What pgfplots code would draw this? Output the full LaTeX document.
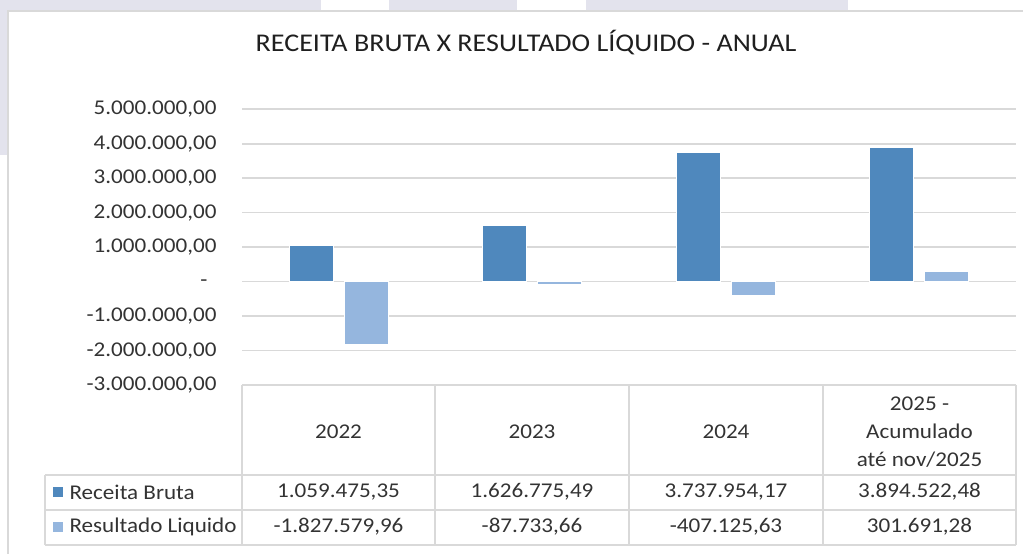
\documentclass[border=0pt]{standalone}
\usepackage{fontspec}
\setmainfont{Carlito}[FakeStretch=1.1]
\usepackage{pgfplots}
\pgfplotsset{compat=1.18}

\definecolor{receita}{HTML}{4F88BD}
\definecolor{resultado}{HTML}{95B6DE}
\definecolor{gridc}{HTML}{D9D9D9}
\definecolor{band}{HTML}{E3E3ED}
\definecolor{txt}{HTML}{333333}

\begin{document}
\begin{tikzpicture}
\path[use as bounding box] (0pt,0pt) rectangle (1023pt,554pt);
% screenshot surroundings
\fill[band] (0pt,544pt) rectangle (321pt,554pt);
\fill[band] (389pt,544pt) rectangle (517pt,554pt);
\fill[band] (586pt,544pt) rectangle (848pt,554pt);
\fill[band] (0pt,399pt) rectangle (7pt,554pt);
\draw[gridc, line width=2pt] (8pt,0pt) -- (8pt,543pt) -- (1023pt,543pt);

\begin{axis}[
    at={(242pt,169pt)}, anchor=south west,
    scale only axis,
    width=774pt, height=275.7pt,
    xmin=-0.5, xmax=3.5,
    ymin=-3000000, ymax=5000000,
    ybar=11pt, bar width=44pt,
    axis line style={draw=none},
    xtick=\empty,
    scaled y ticks=false,
    ytick={-3000000,-2000000,-1000000,0,1000000,2000000,3000000,4000000,5000000},
    yticklabels={{-3.000.000,00},{-2.000.000,00},{-1.000.000,00},{\strut-\hspace*{9pt}},{1.000.000,00},{2.000.000,00},{3.000.000,00},{4.000.000,00},{5.000.000,00}},
    ytick style={draw=none},
    yticklabel style={font=\fontsize{21}{24}\selectfont, text=txt, anchor=east, xshift=-22pt},
    ymajorgrids,
    major grid style={gridc, line width=1.6pt},
    clip=false,
]
\addplot[fill=receita, draw=white, line width=0.6pt] coordinates {
    (0,1059475.35) (1,1626775.49) (2,3737954.17) (3,3894522.48)};
\addplot[fill=resultado, draw=white, line width=0.6pt] coordinates {
    (0,-1827579.96) (1,-87733.66) (2,-407125.63) (3,301691.28)};
\end{axis}

% title
\node[font=\fontsize{25.5}{29}\selectfont, text=black!88] at (526pt,511pt) {RECEITA BRUTA X RESULTADO LÍQUIDO - ANUAL};

% data table
\begin{scope}[gridc, line width=1.6pt]
\draw (242pt,169pt) -- (1016pt,169pt);
\draw (45pt,79pt) -- (1016pt,79pt);
\draw (45pt,44pt) -- (1016pt,44pt);
\draw (45pt,9pt) -- (1016pt,9pt);
\foreach \xx in {242,435,629,823,1016} \draw (\xx pt,169pt) -- (\xx pt,9pt);
\draw (45pt,79pt) -- (45pt,9pt);
\end{scope}

\begin{scope}[every node/.style={font=\fontsize{21}{24}\selectfont, text=txt}]
\node at (338.5pt,122pt) {2022};
\node at (532pt,122pt) {2023};
\node at (726pt,122pt) {2024};
\node[align=center, font=\fontsize{21}{28}\selectfont] at (919.5pt,122pt) {2025 -\\Acumulado\\até nov/2025};
\node at (338.5pt,62pt) {1.059.475,35};
\node at (532pt,62pt) {1.626.775,49};
\node at (726pt,62pt) {3.737.954,17};
\node at (919.5pt,62pt) {3.894.522,48};
\node at (338.5pt,27pt) {-1.827.579,96};
\node at (532pt,27pt) {-87.733,66};
\node at (726pt,27pt) {-407.125,63};
\node at (919.5pt,27pt) {301.691,28};
\node[anchor=west] at (66pt,62pt) {Receita Bruta};
\node[anchor=west] at (66pt,27pt) {Resultado Liquido};
\end{scope}
\fill[receita] (53pt,57pt) rectangle (63pt,67pt);
\fill[resultado] (53pt,22pt) rectangle (63pt,32pt);
\end{tikzpicture}
\end{document}
